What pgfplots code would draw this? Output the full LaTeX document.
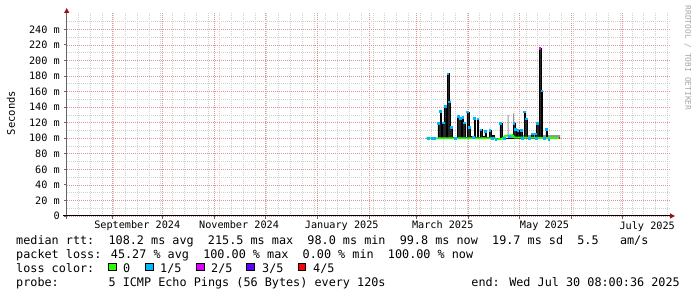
\documentclass[border=0pt]{standalone}
\usepackage{fontspec}
\setmainfont{DejaVu Sans Mono}
\usepackage{pgfplots}
\usepackage{pgfplotstable}
\pgfplotsset{compat=1.18}
\usepgfplotslibrary{fillbetween}
\usetikzlibrary{arrows.meta}
\definecolor{lgreen}{HTML}{26FF00}
\definecolor{lblue}{HTML}{00B8FF}
\definecolor{lmag}{HTML}{DD00FF}
\definecolor{lpurp}{HTML}{5E00FF}
\definecolor{lred}{HTML}{FF0000}
\definecolor{mgrid}{RGB}{228,145,145}
\definecolor{sgrid}{RGB}{208,208,208}
\definecolor{arrowred}{RGB}{150,20,20}
\definecolor{smokedark}{RGB}{38,38,38}
\definecolor{smokelight}{RGB}{150,150,150}

% upper edge of the smoke / rtt (days since 1 Sep 2024, ms)
\pgfplotstableread{
x y
186.6 100
193.7 119
194.9 135
195.7 101
196.5 120
197.5 141
198.5 101
199.2 183
200.2 147
201.2 114
202.2 101
205.2 128
206.4 126
207.4 101
208.0 127
208.8 120
209.8 101
210.8 134
212.0 114
213.1 102
215.1 126
216.1 101
216.9 125
217.9 101
218.7 111
219.7 102
221.6 109
222.6 101
224.2 110
225.2 101
226.2 104
227.0 100
230.5 119
231.7 100
238.4 119
239.4 112
240.4 101
240.8 110
241.8 101
242.8 110
243.6 101
244.8 134
245.8 125
246.6 101
249.4 106
250.4 101
251.3 106
252.3 119
253.7 101
253.9 215.5
254.9 101
255.1 161
255.5 101
257.8 112
258.6 100
266.2 100
}\hitab

\pgfplotstableread{
x y
186.6 99
266.2 99
}\lotab

% light smoke
\pgfplotstableread{
x y
186.6 100
199.9 100
200.2 150
201.0 100
234.6 100
235.0 130
235.6 104
238.1 104
238.4 132
239.0 104
266.2 100
}\smoketab

% median, 0 loss
\pgfplotstableread{
x y
186.6 100
227.6 100
228.5 98.5
232.0 99.5
233.5 103
238.0 104
239.0 101
266.2 100
}\greentab

% median, 1/5 loss
\pgfplotstableread{
x y
194.0 119
195.2 135
196.8 120
197.8 141
199.5 183
200.5 147
201.5 114
205.5 128
206.7 126
208.3 127
209.1 120
211.1 134
212.3 114
215.4 126
217.2 125
219.0 111
221.9 109
224.5 110
230.8 119
238.7 119
239.7 112
241.1 110
243.1 110
245.1 134
246.1 125
249.7 106
251.6 106
252.6 119
255.3 161
258.1 112
188.0 100
190.0 100
191.5 100
204.0 100
214.5 101
226.0 100
228.0 99
233.0 100
236.0 103
243.8 100
248.0 100
252.0 100
256.6 100
259.5 99
}\bluetab

% median, 2/5 loss
\pgfplotstableread{
x y
254.2 215.5
}\magtab

% median, 4/5 loss
\pgfplotstableread{
x y
265.6 100
266.4 100
}\redtab

\begin{document}
\begin{tikzpicture}
\path (0pt,0pt) rectangle (697pt,297pt);
\begin{axis}[
  at={(67pt,81pt)}, anchor=south west,
  scale only axis, width=603pt, height=203pt,
  xmin=-26.74, xmax=331.55, ymin=0, ymax=261,
  axis x line*=bottom, axis y line*=left,
  axis line style={draw=none},
  xtick={0,30,61,91,122,153,181,212,242,273,303},
  xticklabels={,,,,,,,,,,},
  minor xtick={-20,-13,...,330},
  extra x ticks={15,75.5,136.5,196.5,257,318},
  extra x tick labels={September 2024,November 2024,January 2025,March 2025,May 2025,July 2025},
  extra x tick style={grid=none, major tick length=0pt},
  ytick={0,20,...,240},
  yticklabels={0,20~m,40~m,60~m,80~m,100~m,120~m,140~m,160~m,180~m,200~m,220~m,240~m},
  minor ytick={10,30,...,250},
  xmajorgrids, ymajorgrids, xminorgrids, yminorgrids,
  major grid style={draw=mgrid, line width=0.7pt, dash pattern=on 1pt off 1pt},
  minor grid style={draw=sgrid, line width=0.7pt, dash pattern=on 1pt off 1pt},
  tick align=outside,
  major tick length=3pt, minor tick length=0pt,
  tick style={black!60, line width=0.8pt},
  tick label style={font=\fontsize{10.2}{12}\selectfont, text=black},
  yticklabel style={anchor=east, inner sep=0pt, xshift=-4pt},
  xticklabel style={anchor=north, inner sep=0pt, yshift=-5pt},
]
\addplot[const plot, draw=none, name path=smk] table {\smoketab};
\addplot[const plot, draw=none, name path=hi] table {\hitab};
\addplot[draw=none, name path=lo] table {\lotab};
\addplot[fill=smokelight, draw=none] fill between[of=smk and lo];
\addplot[fill=smokedark, draw=none] fill between[of=hi and lo];
\addplot[const plot, draw=black, line width=0.5pt] table {\hitab};
\addplot[lgreen, line width=1.8pt] table {\greentab};
\addplot[only marks, mark=square*, mark size=0.85pt, lblue, mark options={draw=lblue, fill=lblue}] table {\bluetab};
\addplot[only marks, mark=square*, mark size=0.85pt, lmag, mark options={draw=lmag, fill=lmag}] table {\magtab};
\addplot[lred, line width=1.8pt] table {\redtab};
\end{axis}
% axis lines with arrows
\draw[black!60, line width=0.9pt, -{Triangle[length=5pt,width=5pt,color=arrowred]}] (66.7pt,78pt) -- (66.7pt,289pt);
\draw[black, line width=1pt, -{Triangle[length=5pt,width=5pt,color=arrowred]}] (63pt,81pt) -- (675pt,81pt);
% axis title
\node[rotate=90, inner sep=0pt, font=\fontsize{10.5}{12}\selectfont] at (11pt,184pt) {Seconds};
% watermark
\node[rotate=-90, inner sep=0pt, text=black!35, font=\fontsize{7.9}{9}\selectfont] at (688pt,239pt) {RRDTOOL / TOBI OETIKER};
% legend
\begin{scope}[every node/.style={anchor=base west, inner sep=0pt, font=\fontsize{11.8}{14}\selectfont}]
\node at (16pt,52pt) {median rtt:~~108.2 ms avg~~215.5 ms max~~98.0 ms min~~99.8 ms now~~19.7 ms sd~~5.5~~~am/s};
\node at (16pt,38pt) {packet loss: 45.27 \% avg~~100.00 \% max~~0.00 \% min~~100.00 \% now};
\node at (16pt,24pt) {loss color:};
\node at (123pt,24pt) {0};
\node at (160pt,24pt) {1/5};
\node at (211pt,24pt) {2/5};
\node at (262pt,24pt) {3/5};
\node at (313pt,24pt) {4/5};
\node at (16pt,10.3pt) {probe:~~~~~~~5 ICMP Echo Pings (56 Bytes) every 120s};
\node[anchor=base east] at (680pt,10.3pt) {end: Wed Jul 30 08:00:36 2025};
\end{scope}
\draw[black, line width=0.6pt, fill=lgreen] (108.3pt,26.3pt) rectangle (116pt,34pt);
\draw[black, line width=0.6pt, fill=lblue] (145.3pt,26.3pt) rectangle (153pt,34pt);
\draw[black, line width=0.6pt, fill=lmag] (196.7pt,26.3pt) rectangle (204.3pt,34pt);
\draw[black, line width=0.6pt, fill=lpurp] (246.7pt,26.3pt) rectangle (254.3pt,34pt);
\draw[black, line width=0.6pt, fill=lred] (298pt,26.3pt) rectangle (305.3pt,34pt);
\end{tikzpicture}
\end{document}
